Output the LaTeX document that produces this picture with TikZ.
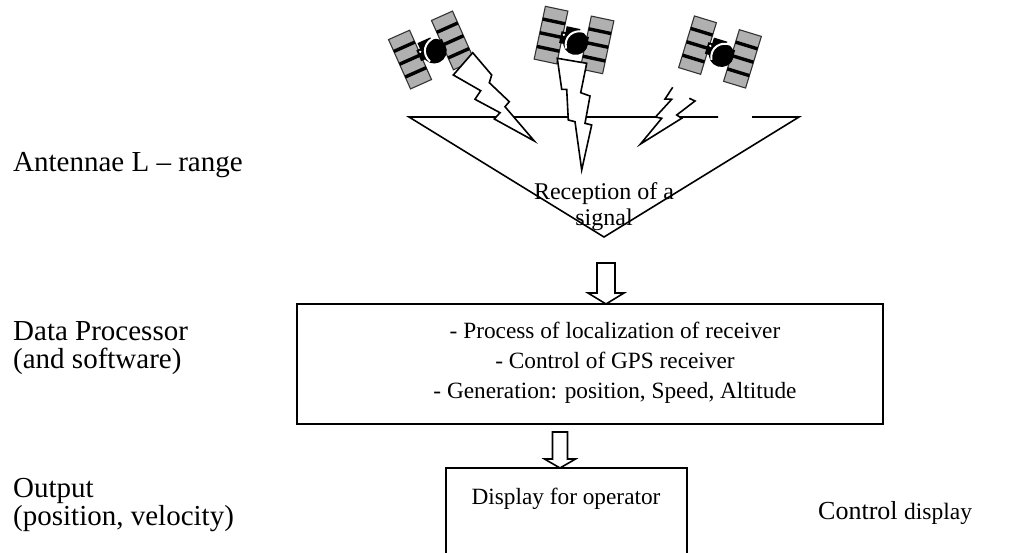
\documentclass[tikz,border=0pt]{standalone}
\usepackage{fontspec}
\setmainfont{Liberation Serif}
\usetikzlibrary{calc}
\tikzset{
  lbl/.style={anchor=base west, inner sep=0, font=\fontsize{29}{33}\selectfont},
  txt/.style={anchor=base, inner sep=0, font=\fontsize{23.3}{27}\selectfont},
  rtxt/.style={anchor=base, inner sep=0, font=\fontsize{24}{27}\selectfont},
  box/.style={draw, line width=1.6, rectangle, inner sep=0, outer sep=0},
  ln/.style={line width=1.6, line join=miter},
  bolt/.style={draw, fill=white, line width=1.6, line join=miter},
  blockarrow/.style={draw, fill=white, line width=1.6, line join=miter},
  panel/.style={fill=gray!62, draw=black!80, line width=1.1},
  stripe/.style={line width=3.4},
  sat/.pic={
    \foreach \s in {-1,1} {
      \path[panel] (\s*12,-27) rectangle (\s*35,27);
      \foreach \yy in {-14,0,14} \draw[stripe] (\s*12,\yy) -- (\s*35,\yy);
    }
    \fill (-14,-6) rectangle (14,6);
    \fill (2,2) circle (12.5);
    \fill (-10,-12) rectangle (4,4);
    \draw[white,line width=2] (-6,10) .. controls (-11,-1) and (-3,-11) .. (9,-10);
    \fill[white] (-11,-3) circle (1.3);
  }
}
\begin{document}
\begin{tikzpicture}[x=1pt,y=-1pt]
\useasboundingbox (0,0) rectangle (1020,552);

% satellites
\pic[rotate=24] (s1) at (431.5,50) {sat};
\pic[rotate=-12] (s2) at (574,40) {sat};
\pic[rotate=-17] (s3) at (720,52) {sat};

% antenna triangle
\coordinate (tl) at (409,117);
\coordinate (tr) at (799,117);
\coordinate (apex) at (604,237);
\coordinate (g1) at (718,117);
\coordinate (g2) at (752,117);
\draw[ln] (g1) -- (tl) -- (apex) -- (tr) -- (g2);

% lightning bolts
\draw[bolt] (472.7,52.7) -- (453.3,75) -- (480.7,90.7) -- (475,99.3) -- (500,112.7) -- (494.3,119) -- (534.3,141)
  -- (505,106.7) -- (509.3,101.7) -- (489.3,82.7) -- (491.7,75) -- cycle;
\draw[bolt] (557.3,58.3) -- (561.7,89.3) -- (566.7,89.3) -- (568.3,120) -- (575,121.7) -- (581.7,170)
  -- (591.7,125) -- (585,123.3) -- (590,96) -- (580.7,92.7) -- (586.7,63.3) -- cycle;
\fill[white] (672.7,87.3) -- (665,99) -- (671.7,99.3) -- (655.5,117) -- (661.7,118.3) -- (640.5,144)
  -- (681.7,118.3) -- (676.7,115) -- (695,101) -- (689.3,98.3) -- cycle;
\draw[ln] (672.7,87.3) -- (665,99) -- (671.7,99.3) -- (655.5,117) -- (661.7,118.3) -- (640.5,144)
  -- (681.7,118.3) -- (676.7,115) -- (695,101) -- (689.3,98.3);

\node[rtxt] (rec1) at (604,199) {Reception of a};
\node[rtxt] (rec2) at (604,225) {signal};

% processor box
\node[box, minimum width=586, minimum height=120] (proc) at (590,364) {};
\node[txt] (p1) at (615,338) {- Process of localization of receiver};
\node[txt] (p2) at (615,368) {- Control of GPS receiver};
\node[txt] (p3) at (615,398) {- Generation: position, Speed, Altitude};

% display box
\node[box, minimum width=241, minimum height=100, anchor=north] (disp) at (566.5,468) {};
\node[txt] (d1) at (566,504) {Display for operator};
\node[anchor=base west, inner sep=0] (ctl) at (818,519)
  {\fontsize{26}{30}\selectfont Control \fontsize{23.5}{28}\selectfont display};

% block arrows
\coordinate (a1t) at (606,263);
\coordinate (a1p) at (proc.north -| a1t);
\draw[blockarrow] ($(a1t)+(-9,0)$) -- ($(a1p)+(-9,-11)$) -- ($(a1p)+(-18,-11)$) -- (a1p)
  -- ($(a1p)+(18,-11)$) -- ($(a1p)+(9,-11)$) -- ($(a1t)+(9,0)$) -- cycle;
\coordinate (a2t) at (560,432);
\coordinate (a2p) at (disp.north -| a2t);
\draw[blockarrow] ($(a2t)+(-7.5,0)$) -- ($(a2p)+(-7.5,-9)$) -- ($(a2p)+(-15.5,-9)$) -- (a2p)
  -- ($(a2p)+(15.5,-9)$) -- ($(a2p)+(7.5,-9)$) -- ($(a2t)+(7.5,0)$) -- cycle;

% left labels
\node[lbl] (l1) at (13,171) {Antennae L – range};
\node[lbl] (l2) at (13,340) {Data Processor};
\node[lbl] (l3) at (13,368) {(and software)};
\node[lbl] (l4) at (13,497) {Output};
\node[lbl] (l5) at (13,525) {(position, velocity)};
\end{tikzpicture}
\end{document}
